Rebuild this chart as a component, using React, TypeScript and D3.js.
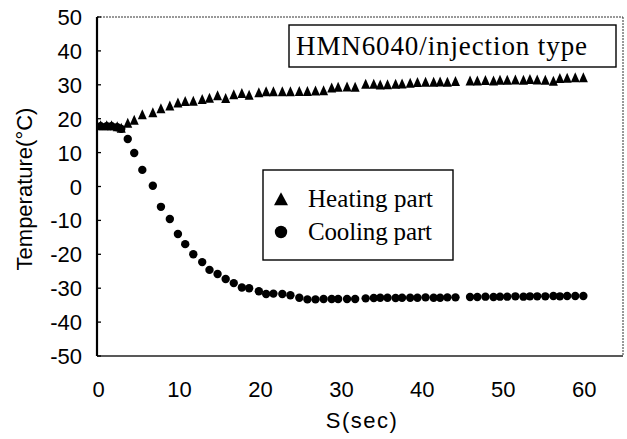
import React from "react";
import * as d3 from "d3";

const time = [0.25, 1.0, 1.6, 2.3, 2.8, 3.6, 4.4, 5.4, 6.7, 7.7, 8.8, 9.8, 10.7, 11.7, 12.8, 13.7, 14.7, 15.7, 16.7, 17.7, 18.6, 19.8, 20.7, 21.6, 22.7, 23.7, 24.8, 25.8, 26.8, 27.8, 28.8, 29.6, 30.7, 31.7, 33.0, 34.0, 34.8, 35.7, 36.7, 37.5, 38.5, 39.4, 40.4, 41.4, 42.2, 43.1, 44.1, 45.9, 46.8, 47.8, 48.8, 49.6, 50.5, 51.5, 52.5, 53.3, 54.2, 55.2, 56.2, 57.0, 57.9, 58.9, 59.9];

const heating = [17.8, 17.8, 17.8, 17.5, 17.0, 18.5, 19.4, 21.0, 21.6, 22.8, 23.6, 24.5, 24.9, 25.0, 25.5, 25.9, 26.6, 25.8, 26.9, 27.3, 26.8, 27.5, 27.8, 27.8, 27.8, 27.8, 27.9, 27.9, 28.0, 28.1, 28.9, 29.1, 29.2, 29.1, 30.0, 30.0, 29.8, 29.9, 30.0, 30.1, 30.3, 30.5, 30.6, 30.6, 30.7, 30.6, 30.8, 31.0, 31.0, 31.1, 31.0, 31.2, 31.2, 31.3, 31.2, 31.4, 31.3, 31.2, 30.9, 31.7, 31.8, 31.9, 31.9];

const cooling = [17.8, 17.8, 17.8, 17.5, 17.0, 14.0, 9.9, 4.9, 0.2, -6.0, -9.6, -14.0, -17.0, -20.0, -22.3, -24.6, -25.8, -27.3, -28.5, -29.8, -30.0, -30.9, -31.7, -31.6, -31.7, -32.1, -32.8, -33.3, -33.3, -33.2, -33.2, -33.2, -33.2, -33.2, -33.0, -32.9, -32.8, -32.8, -32.9, -32.8, -32.8, -32.8, -32.7, -32.8, -32.8, -32.7, -32.7, -32.6, -32.6, -32.5, -32.6, -32.5, -32.5, -32.4, -32.5, -32.4, -32.4, -32.4, -32.3, -32.4, -32.3, -32.3, -32.3];

const xTicks = [0, 10, 20, 30, 40, 50, 60];
const yTicks = [50, 40, 30, 20, 10, 0, -10, -20, -30, -40, -50];

const title = "HMN6040/injection type";
const legendLabels = ["Heating part", "Cooling part"];
const xLabel = "S(sec)";
const yLabel = "Temperature(°C)";

const W = 627;
const H = 439;
const L = 97, R = 623, T = 17, B = 356;

export default function App() {
  const x = d3.scaleLinear().domain([-0.2, 64.8]).range([L, R]);
  const y = d3.scaleLinear().domain([-50, 50]).range([B, T]);
  const sans = "'Liberation Sans', Arial, sans-serif";
  const serif = "'Liberation Serif', 'Times New Roman', serif";
  const tri = (cx: number, cy: number, w: number, h: number) =>
    `M${cx},${cy - h * 0.6}L${cx + w / 2},${cy + h * 0.4}L${cx - w / 2},${cy + h * 0.4}Z`;

  return (
    <svg width={W} height={H} style={{ position: "absolute", left: 0, top: 0, background: "#fff" }}>
      <rect x={0} y={0} width={W} height={H} fill="#fff" />
      {/* frame */}
      <line x1={L} y1={T} x2={R} y2={T} stroke="#333" strokeWidth={1} strokeDasharray="2 1" />
      <line x1={R} y1={T} x2={R} y2={B} stroke="#333" strokeWidth={1} strokeDasharray="2 1" />
      <line x1={L} y1={B} x2={R} y2={B} stroke="#222" strokeWidth={1.3} />
      <line x1={L} y1={T} x2={L} y2={B} stroke="#000" strokeWidth={2.2} />
      {yTicks.map((t) => (
        <g key={t}>
          <line x1={L} x2={L + 4} y1={y(t)} y2={y(t)} stroke="#000" strokeWidth={1.3} />
          <text x={82} y={y(t) + 8} textAnchor="end" fontFamily={sans} fontSize={22} fill="#000">
            {t < 0 ? "-" + Math.abs(t) : String(t)}
          </text>
        </g>
      ))}
      {xTicks.map((t) => (
        <text key={t} x={x(t)} y={397} textAnchor="middle" fontFamily={sans} fontSize={22} fill="#000">
          {t}
        </text>
      ))}
      <text x={362} y={428} textAnchor="middle" fontFamily={sans} fontSize={22} letterSpacing={1.5} fill="#000">
        {xLabel}
      </text>
      <text transform={`translate(32,189) rotate(-90)`} textAnchor="middle" fontFamily={sans} fontSize={22} fill="#000">
        {yLabel}
      </text>
      {/* data */}
      {time.map((t, i) => (
        <circle key={"c" + i} cx={x(t)} cy={y(cooling[i])} r={4.2} fill="#000" />
      ))}
      {time.map((t, i) => (
        <path key={"h" + i} d={tri(x(t), y(heating[i]), 9, 10)} fill="#000" />
      ))}
      {/* title box */}
      <rect x={289} y={25} width={327} height={42} fill="#fff" stroke="#000" strokeWidth={1.4} />
      <text x={296} y={55} fontFamily={serif} fontSize={27} fill="#000" textLength={291} lengthAdjust="spacing">
        {title}
      </text>
      {/* legend */}
      <rect x={263} y={170} width={190} height={90} fill="#fff" stroke="#000" strokeWidth={1.4} />
      <path d={tri(281, 200, 14, 13)} fill="#000" />
      <circle cx={281} cy={232} r={6.2} fill="#000" />
      <text x={308} y={207} fontFamily={serif} fontSize={25} fill="#000" textLength={125} lengthAdjust="spacing">
        {legendLabels[0]}
      </text>
      <text x={308} y={240} fontFamily={serif} fontSize={25} fill="#000" textLength={124} lengthAdjust="spacing">
        {legendLabels[1]}
      </text>
    </svg>
  );
}
